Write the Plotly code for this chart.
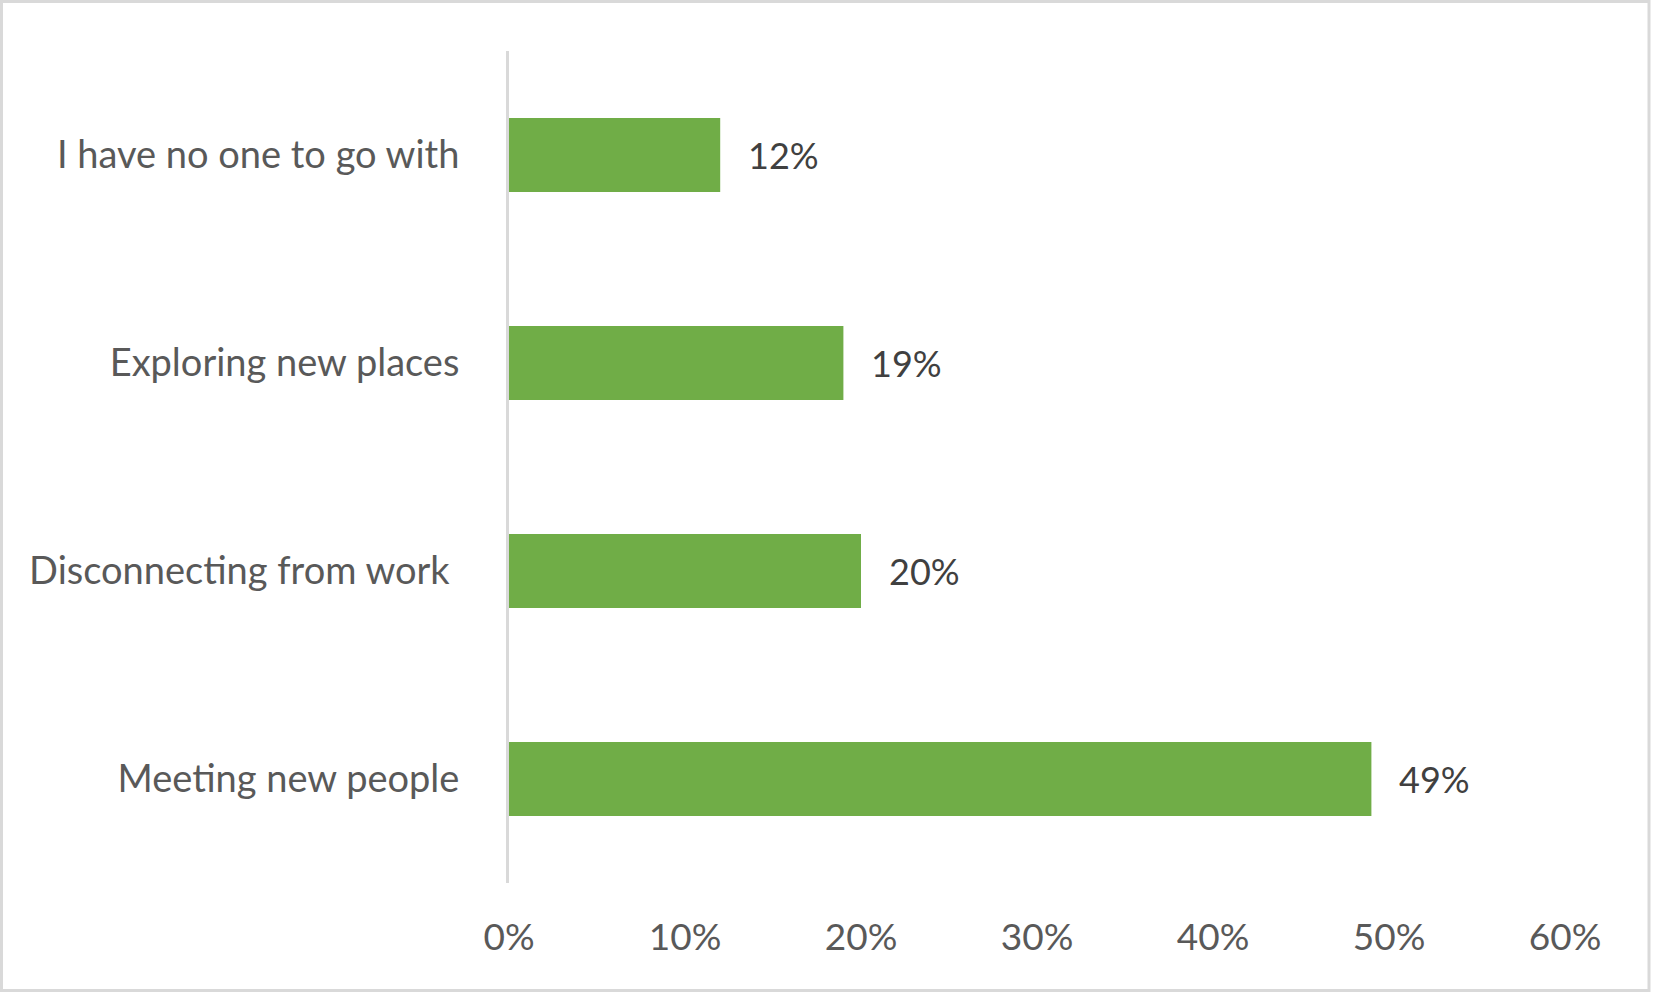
import plotly.graph_objects as go

categories = ["I have no one to go with", "Exploring new places",
              "Disconnecting from work\u00a0", "Meeting new people"]
values = [0.12, 0.19, 0.20, 0.49]
value_labels = ["12%", "19%", "20%", "49%"]
x_ticks = [0, 0.1, 0.2, 0.3, 0.4, 0.5, 0.6]
x_tick_labels = ["0%", "10%", "20%", "30%", "40%", "50%", "60%"]

W, H = 1653, 993
L, R, T, B = 509, 88, 51, 110
pw, ph = W - L - R, H - T - B

FONT = "Lato, Carlito, Calibri, sans-serif"

fig = go.Figure()
fig.add_trace(go.Bar(
    x=values, y=categories, orientation="h",
    marker=dict(color="#70ad47", line=dict(width=0)),
    width=0.356, hoverinfo="skip",
))

for v, c, t in zip(values, categories, value_labels):
    fig.add_annotation(x=v, y=c, text=t, showarrow=False, xanchor="left",
                       yanchor="middle", xshift=26,
                       font=dict(family=FONT, size=36, color="#404040"))

# outer border
fig.add_shape(type="rect", xref="paper", yref="paper",
              x0=(1.5 - L) / pw, x1=(1649 - L) / pw,
              y0=(H - B - 990.5) / ph, y1=(H - B - 1.5) / ph,
              line=dict(color="#d9d9d9", width=3), fillcolor="rgba(0,0,0,0)")

fig.update_layout(
    width=W, height=H,
    margin=dict(l=L, r=R, t=T, b=B, pad=0),
    paper_bgcolor="white", plot_bgcolor="white",
    showlegend=False,
    font=dict(family=FONT, color="#595959"),
    xaxis=dict(range=[0, 0.6], tickvals=x_ticks, ticktext=x_tick_labels,
               showgrid=False, zeroline=False, showline=False,
               ticks="", ticklabelstandoff=29,
               tickfont=dict(family=FONT, size=37, color="#595959"),
               fixedrange=True),
    yaxis=dict(autorange="reversed", showgrid=False, zeroline=False,
               showline=True, linecolor="#d9d9d9", linewidth=3,
               ticks="", ticklabelstandoff=39,
               tickfont=dict(family=FONT, size=38, color="#595959"),
               fixedrange=True),
)

fig.write_html("out.html", config={"displayModeBar": False},
               post_script="document.body.style.margin='0';")
